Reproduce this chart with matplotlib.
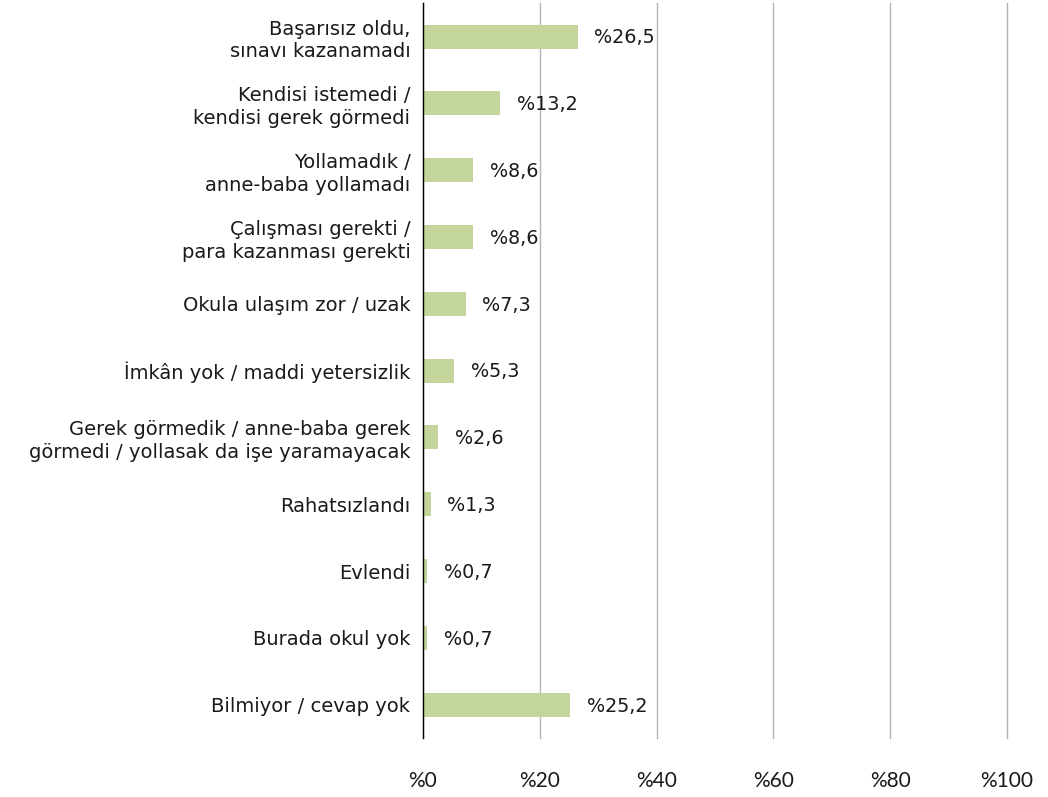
import matplotlib.pyplot as plt

# Data
categories = [
    'Başarısız oldu,\nsınavı kazanamadı',
    'Kendisi istemedi /\nkendisi gerek görmedi',
    'Yollamadık /\nanne-baba yollamadı',
    'Çalışması gerekti /\npara kazanması gerekti',
    'Okula ulaşım zor / uzak',
    'İmkân yok / maddi yetersizlik',
    'Gerek görmedik / anne-baba gerek\ngörmedi / yollasak da işe yaramayacak',
    'Rahatsızlandı',
    'Evlendi',
    'Burada okul yok',
    'Bilmiyor / cevap yok',
]
values = [26.5, 13.2, 8.6, 8.6, 7.3, 5.3, 2.6, 1.3, 0.7, 0.7, 25.2]
x_ticks = [0, 20, 40, 60, 80, 100]

BAR_COLOR = '#c4d59b'
TEXT_COLOR = '#1a1a1a'

plt.rcParams['font.family'] = ['DejaVu Sans']

fig = plt.figure(figsize=(10.48, 7.97), dpi=100)
ax = fig.add_axes([0.4036, 0.074, 0.9609 - 0.4036, 0.996 - 0.074])

y = list(range(len(categories)))
ax.barh(y, values, height=0.36, color=BAR_COLOR, zorder=3)

for yi, v in zip(y, values):
    label = '%' + f'{v:.1f}'.replace('.', ',')
    ax.annotate(label, (v, yi), xytext=(12, -1), textcoords='offset points',
                va='center', ha='left', fontsize=13.8, color=TEXT_COLOR)

ax.set_xlim(0, 100)
ax.set_ylim(len(categories) - 0.5, -0.5)
ax.set_yticks(y)
ax.set_yticklabels(categories, fontsize=14, color=TEXT_COLOR, linespacing=1.25)
ax.set_xticks(x_ticks)
ax.set_xticklabels(['%' + str(t) for t in x_ticks], fontsize=15, color=TEXT_COLOR,
                   family=['Lato', 'DejaVu Sans'])

ax.tick_params(axis='y', length=0, pad=9)
ax.tick_params(axis='x', length=0, pad=24)

ax.grid(axis='x', color='#b3b3b3', linewidth=1, zorder=0)
for gl in ax.get_xgridlines():
    gl.set_clip_on(False)
for side in ['top', 'right', 'bottom']:
    ax.spines[side].set_visible(False)
ax.spines['left'].set_color('black')
ax.spines['left'].set_linewidth(1)
ax.spines['left'].set_zorder(4)

fig.savefig('out.png', dpi=100)
